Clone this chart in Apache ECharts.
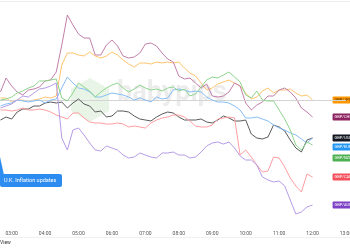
<!DOCTYPE html>
<html><head><meta charset="utf-8">
<script src="https://cdn.jsdelivr.net/npm/echarts@6/dist/echarts.min.js"></script>
<style>html,body{margin:0;padding:0;background:#fff}#c{width:350px;height:250px}</style>
</head><body><div id="c"></div>
<script>
const times = ["02:40","02:50",
"03:00","03:10","03:20","03:30","03:40","03:50",
"04:00","04:10","04:20","04:30","04:40","04:50",
"05:00","05:10","05:20","05:30","05:40","05:50",
"06:00","06:10","06:20","06:30","06:40","06:50",
"07:00","07:10","07:20","07:30","07:40","07:50",
"08:00","08:10","08:20","08:30","08:40","08:50",
"09:00","09:10","09:20","09:30","09:40","09:50",
"10:00","10:10","10:20","10:30","10:40","10:50",
"11:00","11:10","11:20","11:30","11:40","11:50",
"12:00","12:10","12:20","12:30","12:40","12:50","13:00"];

// % change
const gbpJpy = [0.01,0.01,-0.01,0,0,-0.005,0,0.005,0.015,0.01,0.02,0.175,0.235,0.235,0.225,0.22,0.24,0.22,0.21,0.22,0.24,0.225,0.2,0.18,0.165,0.185,0.185,0.18,0.19,0.185,0.19,0.185,0.19,0.16,0.135,0.12,0.085,0.05,0.06,0.08,0.09,0.1,0.085,0.07,0.035,0.005,0.015,0.045,0.06,0.035,0.05,0.05,0.055,0.035,0.02,0.025,0];
const gbpChf = [0.04,0.11,0.07,0.04,0.025,0.05,0.055,0.065,0.095,0.1,0.14,0.275,0.425,0.375,0.33,0.31,0.31,0.225,0.225,0.275,0.3,0.27,0.22,0.21,0.215,0.235,0.28,0.285,0.27,0.235,0.205,0.19,0.12,0.105,0.11,0.085,0.06,0.08,0.02,0.015,0.02,0.04,0.085,0.07,-0.015,-0.05,-0.025,-0.01,0.02,0.02,0.05,0.06,0.04,0.01,-0.04,-0.06,-0.085];
const gbpUsd = [-0.1,-0.085,-0.095,-0.06,-0.045,-0.045,-0.03,-0.03,-0.015,-0.01,-0.015,-0.01,-0.04,-0.015,0.005,-0.02,-0.03,-0.06,-0.055,-0.085,-0.08,-0.055,-0.055,-0.06,-0.08,-0.095,-0.1,-0.105,-0.085,-0.07,-0.06,-0.065,-0.085,-0.1,-0.1,-0.1,-0.095,-0.11,-0.115,-0.1,-0.08,-0.09,-0.105,-0.105,-0.1,-0.17,-0.19,-0.195,-0.185,-0.125,-0.135,-0.155,-0.2,-0.24,-0.26,-0.2,-0.19];
const gbpEur = [-0.03,-0.02,-0.015,0,-0.005,-0.01,-0.005,0,-0.015,0,0.005,0.06,0.115,0.085,0.06,0.055,0.04,0.015,0.015,0.025,0.035,0.03,0.025,0.015,0,0.01,0,-0.01,0.015,0.005,0.01,0.05,0.055,0.05,0.04,0.045,0.04,0.015,0,-0.01,-0.01,-0.015,-0.03,-0.05,-0.09,-0.09,-0.085,-0.095,-0.105,-0.125,-0.14,-0.15,-0.165,-0.175,-0.195,-0.215,-0.19];
const gbpNzd = [0,0.005,0.015,0.035,0.045,0.06,0.07,0.095,0.095,0.1,0.105,0.01,-0.005,0.035,0.085,0.065,0.045,0.015,0.04,0.06,0.075,0.085,0.06,0.04,0.055,0.075,0.06,0.05,0.055,0.045,0.06,0.065,0.045,0.055,0.02,0.03,0.065,0.1,0.115,0.11,0.125,0.14,0.115,0.09,0.025,0.01,0.045,0,-0.005,-0.005,-0.05,-0.095,-0.15,-0.225,-0.25,-0.21,-0.225];
const gbpCad = [-0.05,-0.05,-0.055,-0.05,-0.04,-0.05,-0.05,-0.045,-0.05,-0.06,-0.075,-0.085,-0.095,-0.065,-0.065,-0.09,-0.11,-0.115,-0.115,-0.12,-0.12,-0.115,-0.12,-0.135,-0.13,-0.135,-0.14,-0.115,-0.1,-0.09,-0.085,-0.075,-0.075,-0.085,-0.105,-0.13,-0.135,-0.135,-0.125,-0.095,-0.09,-0.085,-0.09,-0.275,-0.25,-0.285,-0.325,-0.36,-0.355,-0.285,-0.29,-0.335,-0.39,-0.43,-0.46,-0.37,-0.385];
const gbpAud = [-0.04,-0.03,-0.02,0,0.02,0.015,0.035,0.055,0.06,0.07,0.085,-0.19,-0.25,-0.15,-0.14,-0.175,-0.215,-0.25,-0.255,-0.23,-0.24,-0.25,-0.275,-0.29,-0.285,-0.265,-0.275,-0.285,-0.29,-0.265,-0.265,-0.26,-0.275,-0.275,-0.29,-0.285,-0.26,-0.23,-0.215,-0.21,-0.22,-0.21,-0.24,-0.28,-0.3,-0.3,-0.325,-0.385,-0.4,-0.41,-0.405,-0.43,-0.5,-0.57,-0.56,-0.535,-0.525];

const seriesNames = ["GBP/JPY","GBP/CHF","GBP/USD","GBP/EUR","GBP/NZD","GBP/CAD","GBP/AUD"];
const seriesData = [gbpJpy,gbpChf,gbpUsd,gbpEur,gbpNzd,gbpCad,gbpAud];
const lineColors = ["#ffc46e","#c27fa9","#5a5a5a","#86bdf5","#8ed48c","#ff9da0","#b69be6"];
const labelBg   = ["#ff9800","#8e2461","#131722","#2196f3","#4caf50","#f4515d","#7c41c4"];
const labelFg   = ["#4a2c00","#ffffff","#ffffff","#ffffff","#ffffff","#ffffff","#ffffff"];
const labelShift = [0,0,0,9,13,0,0];
const annotationText = "U.K. Inflation updates";

const chart = echarts.init(document.getElementById('c'), null, {renderer:'canvas'});
const series = seriesNames.map((n,i)=>({
  name:n, type:'line', data:seriesData[i], symbol:'none', smooth:false,
  lineStyle:{color:lineColors[i], width:1}, itemStyle:{color:lineColors[i]},
  z: 3+i,
  endLabel:{show:true, formatter:'{a}', distance:20, offset:[0,labelShift[i]],
    backgroundColor:labelBg[i], color:labelFg[i], fontSize:4, lineHeight:5,
    padding:[1,2,1,2], borderRadius:1, fontFamily:'Roboto'},
  markLine: i===0 ? {silent:true, symbol:'none', label:{show:false},
    lineStyle:{color:'#d4d4d4', width:1, type:'solid'}, data:[{yAxis:0}]} : undefined
}));

chart.setOption({
  animation:false,
  grid:{left:0.5, right:4, top:2, bottom:22, containLabel:false, outerBoundsMode:'none'},
  xAxis:{type:'category', data:times, boundaryGap:false,
    axisLine:{lineStyle:{color:'#c4c4c4', width:1}},
    axisTick:{show:false},
    axisLabel:{interval:(idx,val)=>val.slice(3)==='00', fontSize:5, color:'#555', margin:3, fontFamily:'Roboto'},
    splitLine:{show:false}},
  yAxis:{type:'value', min:-0.64, max:0.49, show:false, splitLine:{show:false}},
  graphic:[
    {type:'line', shape:{x1:0,y1:1.5,x2:350,y2:1.5}, style:{stroke:'#eeeeee', lineWidth:1}, z:-1},
    {type:'line', shape:{x1:0,y1:237.5,x2:350,y2:237.5}, style:{stroke:'#f0f0f0', lineWidth:1}, z:-1},
    {type:'polygon', shape:{points:[[90,78],[109,89],[109,111],[90,122],[71,111],[71,89]]},
      style:{fill:'rgba(110,190,100,0.16)'}, z:-1},
    {type:'text', left:117, top:80, style:{text:'babypips', font:'bold 27px Roboto', fill:'rgba(0,0,0,0.075)'}, z:-1},
    {type:'polygon', shape:{points:[[0,157],[4,175],[0,176]]}, style:{fill:'#2d8cf0'}, z:20},
    {type:'rect', shape:{x:0,y:174,width:62,height:13,r:2}, style:{fill:'#2d8cf0'}, z:20},
    {type:'text', x:4, y:180.5, style:{text:annotationText, font:'5.5px Roboto', fill:'#ffffff', textVerticalAlign:'middle'}, z:21},
    {type:'text', x:0, y:243, style:{text:'View', font:'5px Roboto', fill:'#333', textVerticalAlign:'middle'}, z:21}
  ],
  series: series
});
</script></body></html>
